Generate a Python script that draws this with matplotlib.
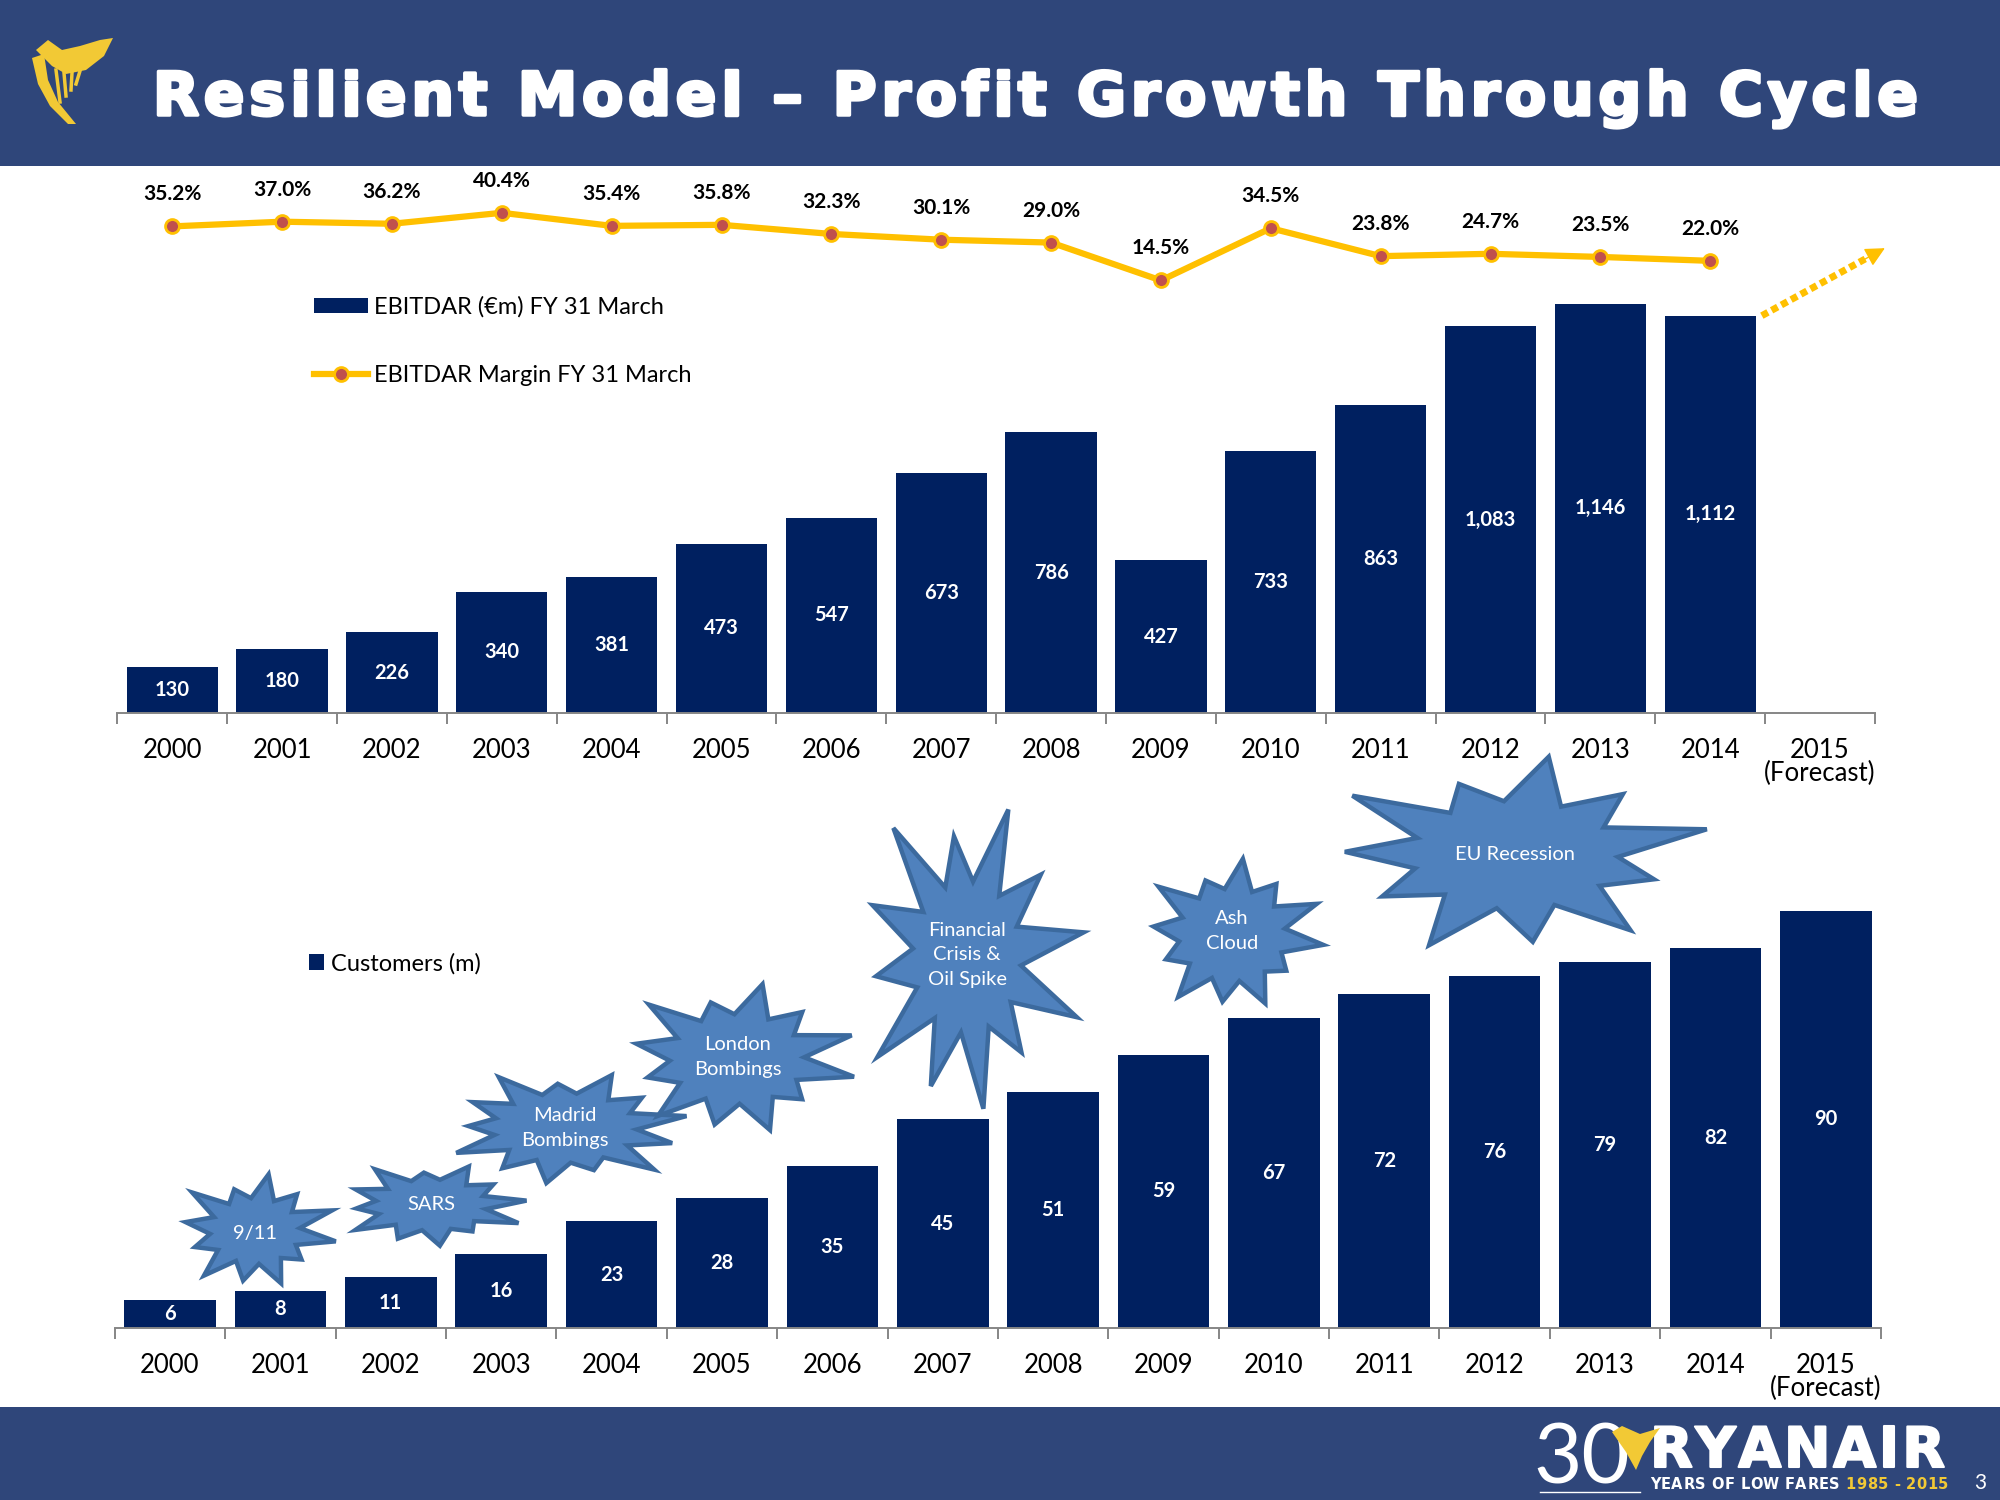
import numpy as np
import matplotlib
matplotlib.use('Agg')
import matplotlib.pyplot as plt
from matplotlib.patches import Rectangle, Polygon
from matplotlib.lines import Line2D
from matplotlib.font_manager import FontProperties
import matplotlib.patheffects as pe

# ---------------- data ----------------
years = ['2000', '2001', '2002', '2003', '2004', '2005', '2006', '2007', '2008',
         '2009', '2010', '2011', '2012', '2013', '2014', '2015\n(Forecast)']
ebitdar = [130, 180, 226, 340, 381, 473, 547, 673, 786, 427, 733, 863, 1083, 1146, 1112]
margin = [35.2, 37.0, 36.2, 40.4, 35.4, 35.8, 32.3, 30.1, 29.0, 14.5, 34.5, 23.8, 24.7, 23.5, 22.0]
customers = [6, 8, 11, 16, 23, 28, 35, 45, 51, 59, 67, 72, 76, 79, 82, 90]
events = ['9/11', 'SARS', 'Madrid\nBombings', 'London\nBombings',
          'Financial\nCrisis &\nOil Spike', 'Ash\nCloud', 'EU Recession']

title = 'Resilient Model \u2013 Profit Growth Through Cycle'

# ---------------- style ----------------
W, H = 2000, 1500
NAVY = '#002060'
GOLD = '#FFC000'
RED = '#C0504D'
HDR = '#2F467A'
STAR_FC = '#4F81BD'
STAR_EC = '#3C6A9E'
AXC = '#868686'
FONT = 'Lato'

fig = plt.figure(figsize=(20, 15), dpi=100)
fig.patch.set_facecolor('white')


def style_axis(ax, n):
    for s in ['top', 'right', 'left']:
        ax.spines[s].set_visible(False)
    ax.spines['bottom'].set_color(AXC)
    ax.spines['bottom'].set_linewidth(1.4)
    ax.set_yticks([])
    ax.set_xlim(-0.5, n - 0.5)
    ax.set_xticks(np.arange(-0.5, n, 1.0))
    ax.set_xticklabels([])
    ax.set_xticks(np.arange(n), minor=True)
    ax.set_xticklabels(years, minor=True, fontsize=18.5, family=FONT, linespacing=0.88)
    ax.tick_params(axis='x', which='major', length=8, width=1.4, color=AXC, direction='out')
    ax.tick_params(axis='x', which='minor', length=0, pad=18)
    ax.patch.set_alpha(0)


# ---------------- top chart ----------------
top_base, top_h = 713, 543
ax1 = fig.add_axes([117.3 / W, 1 - top_base / H, (1875 - 117.3) / W, top_h / H])
px_per_unit = 0.3573
ax1.set_ylim(0, top_h / px_per_unit)
style_axis(ax1, len(years))
x_e = np.arange(len(ebitdar))
ax1.bar(x_e, ebitdar, width=0.83, color=NAVY, zorder=2)
for i, v in enumerate(ebitdar):
    ax1.text(i, v / 2, f'{v:,}', ha='center', va='center', color='white',
             fontsize=14.5, fontweight='bold', family=FONT, zorder=3)

ax2 = ax1.twinx()
ax2.set_ylim(-151.2, 56.8)
ax2.set_axis_off()
x_m = np.arange(len(margin))
ax2.plot(x_m, margin, color=GOLD, lw=4.5, marker='o', ms=10, mfc=RED, mec=GOLD, mew=2,
         zorder=3, clip_on=False)
for i, m in enumerate(margin):
    ax2.annotate(f'{m:.1f}%', (i, m), xytext=(0, 23), textcoords='offset points',
                 ha='center', va='center', fontsize=15, fontweight='bold', family=FONT,
                 color='black', annotation_clip=False)

# dotted forecast arrow
x_start, y_start = 14.47, 1112
x_end, y_end = 15.59, 1301
frac = 0.84
ax1.plot([x_start, x_start + frac * (x_end - x_start)],
         [y_start, y_start + frac * (y_end - y_start)],
         color=GOLD, lw=5, linestyle=(0, (1, 0.6)), solid_capstyle='butt',
         dash_capstyle='butt', clip_on=False, zorder=3)
ax1.annotate('', xy=(x_end, y_end),
             xytext=(x_start + 0.8 * (x_end - x_start), y_start + 0.8 * (y_end - y_start)),
             arrowprops=dict(arrowstyle='-|>,head_length=1.2,head_width=0.6', color=GOLD,
                             lw=1, shrinkA=0, shrinkB=0),
             annotation_clip=False)

fig.legend([Rectangle((0, 0), 1, 1, fc=NAVY),
            Line2D([], [], color=GOLD, lw=4.5, marker='o', ms=10, mfc=RED, mec=GOLD, mew=2)],
           ['EBITDAR (\u20acm) FY 31 March', 'EBITDAR Margin FY 31 March'],
           loc='upper left', bbox_to_anchor=(314 / W, 1 - 296 / H), frameon=False,
           prop=FontProperties(family=FONT, size=17), handlelength=2.3,
           handleheight=0.6, handletextpad=0.25, labelspacing=2.0,
           borderpad=0, borderaxespad=0)

# ---------------- bottom chart ----------------
bot_base, bot_h = 1328, 728
ax3 = fig.add_axes([114.8 / W, 1 - bot_base / H, (1881 - 114.8) / W, bot_h / H])
px_per_cust = 4.634
ax3.set_ylim(0, bot_h / px_per_cust)
style_axis(ax3, len(years))
x_c = np.arange(len(customers))
ax3.bar(x_c, customers, width=0.83, color=NAVY, zorder=2)
for i, v in enumerate(customers):
    ax3.text(i, v / 2, f'{v}', ha='center', va='center', color='white',
             fontsize=14.5, fontweight='bold', family=FONT, zorder=3)

fig.legend([Rectangle((0, 0), 1, 1, fc=NAVY)], ['Customers (m)'],
           loc='upper left', bbox_to_anchor=(309 / W, 1 - 953 / H), frameon=False,
           prop=FontProperties(family=FONT, size=17), handlelength=0.65,
           handleheight=0.65, handletextpad=0.3, borderpad=0, borderaxespad=0)

# ---------------- overlay (header, footer, starbursts) ----------------
ov = fig.add_axes([0, 0, 1, 1], zorder=10)
ov.set_xlim(0, W)
ov.set_ylim(H, 0)
ov.set_axis_off()
ov.patch.set_alpha(0)

ov.add_patch(Rectangle((0, 0), W, 166, fc=HDR, ec='none', zorder=0))
ov.add_patch(Rectangle((0, 1407), W, 93, fc=HDR, ec='none', zorder=0))

renderer = fig.canvas.get_renderer()


def adv(ch, fp):
    w1, _, _ = renderer.get_text_width_height_descent('|' + ch + '|', fp, ismath=False)
    w0, _, _ = renderer.get_text_width_height_descent('||', fp, ismath=False)
    return w1 - w0


def tracked_text(s, x0, x1, y, fp, colors, stroke=0):
    advs = [adv(c, fp) for c in s]
    extra = (x1 - x0 - sum(advs)) / (len(s) - 1)
    x = x0
    for c, a, col in zip(s, advs, colors):
        t = ov.text(x, y, c, fontproperties=fp, color=col, ha='left', va='baseline', zorder=5)
        if stroke:
            t.set_path_effects([pe.withStroke(linewidth=stroke, foreground=col)])
        x += a + extra


fp_title = FontProperties(family='DejaVu Sans', weight='bold', size=43)
tracked_text(title, 153, 1918, 115, fp_title, ['white'] * len(title), stroke=2.5)

# harp logo (top-left)
YEL = '#F2C935'
ov.add_patch(Polygon([(36, 50), (48, 40), (62, 50), (80, 46), (100, 40), (113, 38),
                      (104, 56), (86, 70), (66, 74), (52, 66)], closed=True, fc=YEL, ec='none', zorder=5))
ov.add_patch(Polygon([(32, 58), (44, 54), (48, 80), (58, 102), (76, 124), (68, 124),
                      (50, 106), (38, 84)], closed=True, fc=YEL, ec='none', zorder=5))
for (xa, ya, xb, yb) in [(56, 70, 60, 102), (64, 73, 66, 96), (72, 73, 71, 90), (80, 71, 76, 84)]:
    ov.plot([xa, xb], [ya, yb], color=YEL, lw=2.5, zorder=5)

# footer logo
ov.text(1533, 1484, '30', family=FONT, weight='normal', size=60, color='white',
        ha='left', va='baseline', zorder=5)
ov.add_patch(Polygon([(1612, 1432), (1622, 1426), (1640, 1434), (1660, 1428), (1650, 1442),
                      (1642, 1456), (1636, 1470), (1626, 1452)], closed=True, fc=YEL, ec='none',
                     zorder=6))
fp_ry = FontProperties(family='DejaVu Sans', weight='bold', size=40)
tracked_text('RYANAIR', 1650, 1945, 1467, fp_ry, ['white'] * 7, stroke=1.5)
tag = 'YEARS OF LOW FARES 1985 - 2015'
tag_cols = ['white'] * 19 + ['#F2C935'] * (len(tag) - 19)
fp_tag = FontProperties(family='DejaVu Sans', weight='bold', size=10.5)
tracked_text(tag, 1650, 1948, 1489, fp_tag, tag_cols)
ov.plot([1540, 1640], [1492, 1492], color='white', lw=1, zorder=5)
ov.text(1980, 1489, '3', family=FONT, size=15, color='white', ha='center', va='baseline', zorder=5)

# starbursts
star_layout = [  # cx, cy, rx, ry, spikes, inner, rotation
    (255, 1231, 82, 60, 12, 0.55, 0.35),
    (431, 1205, 96, 44, 12, 0.58, 0.10),
    (565, 1128, 124, 60, 13, 0.58, 0.20),
    (737, 1059, 120, 80, 12, 0.56, 0.30),
    (967, 957, 118, 165, 12, 0.46, 0.15),
    (1232, 935, 92, 80, 12, 0.58, 0.40),
    (1515, 855, 198, 104, 11, 0.52, 0.25),
]
text_pos = [(255, 1234), (431, 1205), (565, 1128), (738, 1057), (967, 955), (1232, 931), (1515, 854)]
pattern = [1.0, 0.80, 0.96, 0.74, 1.0, 0.86, 0.78, 0.97, 0.84, 0.93, 0.74, 1.0, 0.9, 0.82]

for (cx, cy, rx, ry, n, inner, rot), lab, (tx, ty) in zip(star_layout, events, text_pos):
    pts = []
    for k in range(2 * n):
        ang = rot + np.pi * k / n
        r = pattern[(k // 2) % len(pattern)] if k % 2 == 0 else inner
        pts.append((cx + rx * r * np.cos(ang), cy - ry * r * np.sin(ang)))
    ov.add_patch(Polygon(pts, closed=True, fc=STAR_FC, ec=STAR_EC, lw=3.2, zorder=3,
                         joinstyle='miter'))
    ov.text(tx, ty, lab, ha='center', va='center', color='white', family=FONT,
            size=14.5, linespacing=1.55, zorder=4)

fig.savefig('out.png', dpi=100)
